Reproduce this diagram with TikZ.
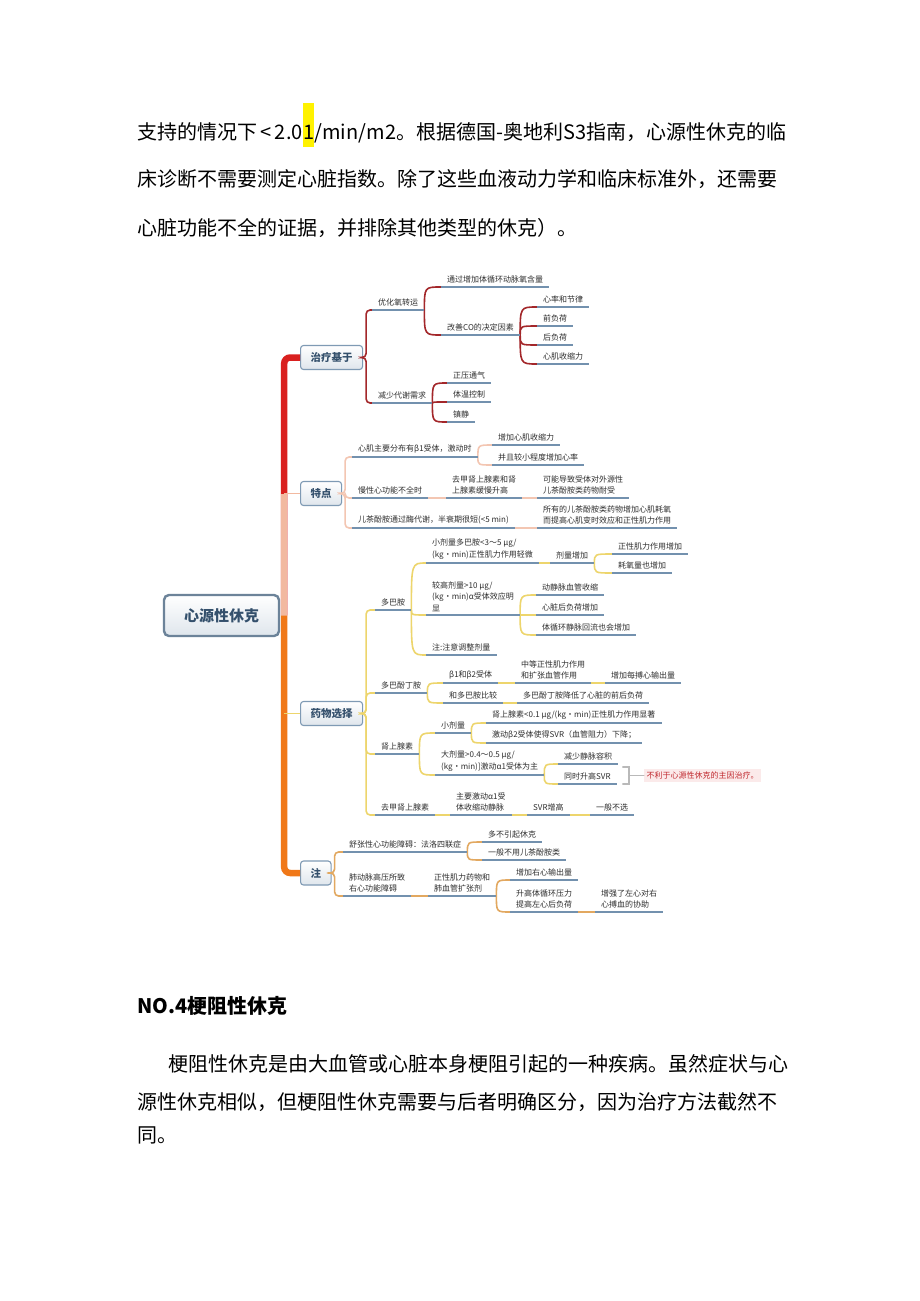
\documentclass[tikz,border=0pt]{standalone}
\usepackage{fontspec}
\setmainfont{Noto Sans CJK SC}
\usetikzlibrary{positioning, calc}

\definecolor{trunkred}{HTML}{D9201F}
\definecolor{trunksalmon}{HTML}{F2B9A0}
\definecolor{trunkorange}{HTML}{F07818}
\definecolor{lnmaroon}{HTML}{A3272A}
\definecolor{lnsalmon}{HTML}{F3C6B2}
\definecolor{lnyellow}{HTML}{EDD56C}
\definecolor{lnorange}{HTML}{E2A860}
\definecolor{uline}{HTML}{7391AE}
\definecolor{boxedge}{HTML}{7F9AB4}
\definecolor{boxtext}{HTML}{34506C}
\definecolor{txt}{HTML}{2E2E2E}
\definecolor{hl}{HTML}{FFF200}
\definecolor{notered}{HTML}{C0282E}
\definecolor{notebg}{HTML}{FBEAEA}
\definecolor{brkgray}{HTML}{B9B9B9}

\newcommand{\bodysize}{\fontsize{20}{24}\selectfont}
\newcommand{\mapsize}{\fontsize{8}{11.5}\selectfont}

\begin{document}
\begin{tikzpicture}[
    x=1pt, y=-1pt,
    para/.style={anchor=base west, inner sep=0pt, font=\bodysize, text=black},
    rootbox/.style={draw=boxedge!85!black, line width=2.4pt, rounded corners=5pt, top color=white, bottom color=boxedge!25, minimum width=115pt, minimum height=41pt, font=\fontsize{15}{18}\selectfont\bfseries, text=boxtext},
    mainbox/.style={draw=boxedge, line width=1.1pt, rounded corners=3pt, top color=white, bottom color=boxedge!25, minimum height=24pt, inner xsep=10pt, anchor=west, font=\fontsize{10.5}{12}\selectfont\bfseries, text=boxtext},
    leaf/.style={anchor=south west, inner xsep=6pt, inner ysep=3.5pt, align=left, font=\mapsize, text=txt},
    trunk/.style={line width=6.5pt},
    stub/.style={line width=1.6pt},
    fork/.style={line width=1.6pt},
    ul/.style={uline, line width=1.3pt},
    brk/.style={brkgray, line width=1.5pt, line cap=round}
]
\fill[white] (0,0) rectangle (920,1301);
\useasboundingbox (0,0) rectangle (920,1301);

\node[para] (l1a) at (137,139) {支持的情况下\,<\,2.0};
\node[para, fill=hl, text height=36pt, text depth=8pt] (l1b) at (l1a.base east) {1};
\node[para] (l1c) at (l1b.base east) {/min/m2。根据德国-奥地利S3指南，心源性休克的临};
\node[para] (l2) at (137,186) {床诊断不需要测定心脏指数。除了这些血液动力学和临床标准外，还需要};
\node[para] (l3) at (137,235) {心脏功能不全的证据，并排除其他类型的休克）。};

\node[para, font=\bodysize\bfseries] (h4) at (137,1013) {NO.4梗阻性休克};
\node[para] (b1) at (168,1071) {梗阻性休克是由大血管或心脏本身梗阻引起的一种疾病。虽然症状与心};
\node[para] (b2) at (137,1109) {源性休克相似，但梗阻性休克需要与后者明确区分，因为治疗方法截然不};
\node[para] (b3) at (137,1142) {同。};

\node[rootbox] (root) at (221.5,615.5) {心源性休克};
\node[mainbox] (zl) at (300,357.5) {治疗基于};
\node[mainbox] (td) at (300,493.5) {特点};
\node[mainbox] (yw) at (300,713.5) {药物选择};
\node[mainbox] (zh) at (300,873) {注};

\coordinate (tk) at ([xshift=4pt]root.east);
\draw[trunk, trunkred, rounded corners=6pt] (tk) |- (zl.west);
\draw[trunk, trunksalmon] (tk) -- (tk |- td.west);
\draw[stub, trunksalmon] (tk |- td.west) -- (td.west);
\draw[trunk, trunkorange, rounded corners=6pt] (tk) |- (zh.west);
\draw[stub, lnyellow] (tk |- yw.west) -- (yw.west);

\node[leaf] (o1) at (372,310) {优化氧转运};
\node[leaf] (o2) at (372,403) {减少代谢需求};
\node[leaf] (o11) at (441,287) {通过增加体循环动脉氧含量};
\node[leaf] (o12) at (441,335) {改善CO的决定因素};
\node[leaf] (o121) at (537,307) {心率和节律};
\node[leaf] (o122) at (537,326) {前负荷};
\node[leaf] (o123) at (537,345) {后负荷};
\node[leaf] (o124) at (537,364) {心肌收缩力};
\node[leaf] (o21) at (447,383) {正压通气};
\node[leaf] (o22) at (447,402) {体温控制};
\node[leaf] (o23) at (447,422) {镇静};

\node[leaf] (t1) at (352,457) {心肌主要分布有β1受体，激动时};
\node[leaf] (t11) at (492,445) {增加心肌收缩力};
\node[leaf] (t12) at (492,465) {并且较小程度增加心率};
\node[leaf] (t2) at (352,498) {慢性心功能不全时};
\node[leaf] (t21) at (446,498) {去甲肾上腺素和肾\\上腺素缓慢升高};
\node[leaf] (t22) at (537,498) {可能导致受体对外源性\\儿茶酚胺类药物耐受};
\node[leaf] (t3) at (352,528) {儿茶酚胺通过酶代谢，半衰期很短(<5 min)};
\node[leaf] (t31) at (537,528) {所有的儿茶酚胺类药物增加心肌耗氧\\而提高心肌变时效应和正性肌力作用};

\node[leaf] (d1) at (375,610) {多巴胺};
\node[leaf] (d11) at (426,563) {小剂量多巴胺<3～5 μg/\\(kg·min)正性肌力作用轻微};
\node[leaf] (d111) at (550,563) {剂量增加};
\node[leaf] (d1111) at (612,554) {正性肌力作用增加};
\node[leaf] (d1112) at (612,573) {耗氧量也增加};
\node[leaf] (d12) at (426,615) {较高剂量>10 μg/\\(kg·min)α受体效应明\\显};
\node[leaf] (d121) at (536,595) {动静脉血管收缩};
\node[leaf] (d122) at (536,615) {心脏后负荷增加};
\node[leaf] (d123) at (536,635) {体循环静脉回流也会增加};
\node[leaf] (d13) at (426,655) {注:注意调整剂量};
\node[leaf] (d2) at (375,693) {多巴酚丁胺};
\node[leaf] (d21) at (443,683) {β1和β2受体};
\node[leaf] (d211) at (515,683) {中等正性肌力作用\\和扩张血管作用};
\node[leaf] (d2111) at (605,683) {增加每搏心输出量};
\node[leaf] (d22) at (443,703) {和多巴胺比较};
\node[leaf] (d221) at (517,703) {多巴酚丁胺降低了心脏的前后负荷};
\node[leaf] (d3) at (375,754) {肾上腺素};
\node[leaf] (d31) at (435,733) {小剂量};
\node[leaf] (d311) at (486,723) {肾上腺素<0.1 μg/(kg·min)正性肌力作用显著};
\node[leaf] (d312) at (486,743) {激动β2受体使得SVR（血管阻力）下降；};
\node[leaf] (d32) at (435,775) {大剂量>0.4～0.5 μg/\\(kg·min)]激动α1受体为主};
\node[leaf] (d321) at (558,764) {减少静脉容积};
\node[leaf] (d322) at (558,784) {同时升高SVR};
\node[leaf] (d4) at (375,815) {去甲肾上腺素};
\node[leaf] (d41) at (450,815) {主要激动α1受\\体收缩动静脉};
\node[leaf] (d411) at (527,815) {SVR增高};
\node[leaf] (d4111) at (590,815) {一般不选};

\node[leaf] (z1) at (343,852) {舒张性心功能障碍：法洛四联症};
\node[leaf] (z11) at (482,842) {多不引起休克};
\node[leaf] (z12) at (482,860) {一般不用儿茶酚胺类};
\node[leaf] (z2) at (343,896) {肺动脉高压所致\\右心功能障碍};
\node[leaf] (z21) at (428,896) {正性肌力药物和\\肺血管扩张剂};
\node[leaf] (z211) at (510,880) {增加右心输出量};
\node[leaf] (z212) at (510,912) {升高体循环压力\\提高左心后负荷};
\node[leaf] (z2121) at (595,912) {增强了左心对右\\心搏血的协助};

\coordinate (bk) at ([xshift=12pt]d322.south east);
\node[anchor=west, fill=notebg, text=notered, font=\mapsize, inner sep=2.5pt] (note) at ([xshift=15pt,yshift=8.5pt]bk) {不利于心源性休克的主因治疗。};

\foreach \c in {o1,o2}
  \draw[fork, lnmaroon, rounded corners=4pt] (zl.east) -- ++(3,0) |- (\c.south west);
\foreach \c in {t1,t2,t3}
  \draw[fork, lnsalmon, rounded corners=4pt] (td.east) -- ++(3,0) |- (\c.south west);
\foreach \c in {d1,d2,d3,d4}
  \draw[fork, lnyellow, rounded corners=4pt] (yw.east) -- ++(3,0) |- (\c.south west);
\foreach \c in {z1,z2}
  \draw[fork, lnorange, rounded corners=4pt] (zh.east) -- ++(3,0) |- (\c.south west);

\foreach \p/\c in {o1/o11, o1/o12, o12/o121, o12/o122, o12/o123, o12/o124, o2/o21, o2/o22, o2/o23}
  \draw[fork, lnmaroon] (\p.south east) .. controls (\p.south east |- \c.south west) .. (\c.south west);
\foreach \p/\c in {t1/t11, t1/t12, t2/t21, t21/t22, t3/t31}
  \draw[fork, lnsalmon] (\p.south east) .. controls (\p.south east |- \c.south west) .. (\c.south west);
\foreach \p/\c in {d1/d11, d1/d12, d1/d13, d11/d111, d111/d1111, d111/d1112, d12/d121, d12/d122, d12/d123,
    d2/d21, d2/d22, d21/d211, d211/d2111, d22/d221, d3/d31, d3/d32, d31/d311, d31/d312, d32/d321, d32/d322,
    d4/d41, d41/d411, d411/d4111}
  \draw[fork, lnyellow] (\p.south east) .. controls (\p.south east |- \c.south west) .. (\c.south west);
\foreach \p/\c in {z1/z11, z1/z12, z2/z21, z21/z211, z21/z212, z212/z2121}
  \draw[fork, lnorange] (\p.south east) .. controls (\p.south east |- \c.south west) .. (\c.south west);

\foreach \n in {o1,o2,o11,o12,o121,o122,o123,o124,o21,o22,o23,
    t1,t11,t12,t2,t21,t22,t3,t31,
    d1,d11,d111,d1111,d1112,d12,d121,d122,d123,d13,d2,d21,d211,d2111,d22,d221,
    d3,d31,d311,d312,d32,d321,d322,d4,d41,d411,d4111,
    z1,z11,z12,z2,z21,z211,z212,z2121}
  \draw[ul] (\n.south west) -- (\n.south east);

\draw[brk] ([xshift=-6pt]bk) -- (bk) -- ([yshift=17pt]bk) -- ([xshift=-6pt,yshift=17pt]bk);
\draw[brk] ([yshift=8.5pt]bk) -- (note.west);
\end{tikzpicture}
\end{document}
